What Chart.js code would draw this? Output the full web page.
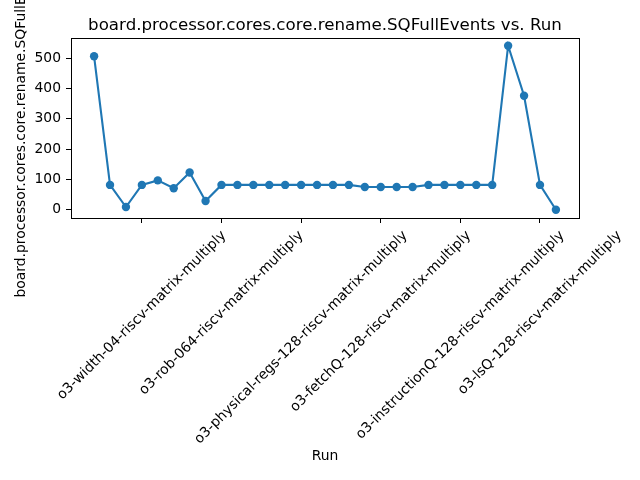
<!DOCTYPE html>
<html>
<head>
<meta charset="utf-8">
<script src="https://cdn.jsdelivr.net/npm/chart.js@4/dist/chart.umd.min.js"></script>
<style>
  html, body { margin: 0; padding: 0; background: #fff; }
  #wrap { width: 640px; height: 480px; }
</style>
</head>
<body>
<div id="wrap"><canvas id="c" width="640" height="480"></canvas></div>
<script>
const chartTitle = 'board.processor.cores.core.rename.SQFullEvents vs. Run';
const xTitle = 'Run';
const yTitle = 'board.processor.cores.core.rename.SQFullEvents';

const sqFullEvents = [506, 82, 9, 82, 97, 71, 123, 29, 82, 82, 82, 82, 82, 82, 82, 82, 82, 75, 75, 75, 75, 82, 82, 82, 82, 82, 541, 376, 82, 0];
const xTickPositions = [3, 8, 13, 18, 23, 28];
const xTickLabels = [
  'o3-width-04-riscv-matrix-multiply',
  'o3-rob-064-riscv-matrix-multiply',
  'o3-physical-regs-128-riscv-matrix-multiply',
  'o3-fetchQ-128-riscv-matrix-multiply',
  'o3-instructionQ-128-riscv-matrix-multiply',
  'o3-lsQ-128-riscv-matrix-multiply'
];
const yTickValues = [0, 100, 200, 300, 400, 500];

const FONT = "'DejaVu Sans', sans-serif";
const TICK_PX = 13.89;
const TITLE_PX = 16.67;
const BLUE = '#1f77b4';

Chart.defaults.color = '#000';
Chart.defaults.font.family = FONT;
Chart.defaults.font.size = TICK_PX;

const n = sqFullEvents.length;
const xPad = (n - 1) * 0.05;
const yMaxData = Math.max(...sqFullEvents), yMinData = Math.min(...sqFullEvents);
const yPad = (yMaxData - yMinData) * 0.05;

const decor = {
  id: 'decor',
  afterDraw(chart) {
    const ctx = chart.ctx;
    const a = chart.chartArea;
    const xs = chart.scales.x;
    ctx.save();
    ctx.strokeStyle = '#000';
    ctx.lineWidth = 1;
    ctx.strokeRect(Math.round(a.left) + 0.5, Math.round(a.top) + 0.5,
                   Math.round(a.right) - Math.round(a.left), Math.round(a.bottom) - Math.round(a.top));
    ctx.fillStyle = '#000';
    ctx.font = TITLE_PX + 'px ' + FONT;
    ctx.textAlign = 'center';
    ctx.textBaseline = 'alphabetic';
    ctx.fillText(chartTitle, (a.left + a.right) / 2, a.top - 8);
    ctx.font = TICK_PX + 'px ' + FONT;
    ctx.save();
    ctx.translate(21.5, (a.top + a.bottom) / 2);
    ctx.rotate(-Math.PI / 2);
    ctx.textAlign = 'center';
    ctx.textBaseline = 'middle';
    ctx.fillText(yTitle, 0, 0);
    ctx.restore();
    const H = 16;
    const topY = a.bottom + 9.7;
    xs.ticks.forEach((t) => {
      const label = xTickLabels[xTickPositions.indexOf(t.value)];
      if (!label) return;
      const px = xs.getPixelForValue(t.value);
      const W = ctx.measureText(label).width;
      const bh = (W + H) * Math.SQRT1_2;
      ctx.save();
      ctx.translate(px, topY + bh / 2);
      ctx.rotate(-Math.PI / 4);
      ctx.textAlign = 'center';
      ctx.textBaseline = 'middle';
      ctx.fillText(label, 0, 0);
      ctx.restore();
    });
    ctx.restore();
  }
};

new Chart(document.getElementById('c'), {
  type: 'line',
  data: {
    datasets: [{
      data: sqFullEvents.map((v, i) => ({ x: i, y: v })),
      borderColor: BLUE,
      backgroundColor: BLUE,
      borderWidth: 2.1,
      pointRadius: 4.2,
      pointHoverRadius: 4.2,
      pointBorderWidth: 0,
      pointBackgroundColor: BLUE,
      tension: 0,
      fill: false,
      clip: false
    }]
  },
  options: {
    responsive: false,
    animation: false,
    events: [],
    layout: { padding: { top: 37.5, right: 61, left: 0, bottom: 0 } },
    plugins: { legend: { display: false }, title: { display: false }, tooltip: { enabled: false } },
    scales: {
      x: {
        type: 'linear',
        min: -xPad,
        max: (n - 1) + xPad,
        bounds: 'data',
        afterBuildTicks: s => { s.ticks = xTickPositions.map(v => ({ value: v })); },
        afterFit: s => { s.height = 262; },
        ticks: { display: false },
        grid: { display: true, drawOnChartArea: false, drawTicks: true, tickLength: 5, color: '#000', lineWidth: 1 },
        border: { display: false },
        title: { display: true, text: xTitle, font: { size: TICK_PX, family: FONT }, color: '#000', padding: { top: 0, bottom: 15 } }
      },
      y: {
        type: 'linear',
        min: yMinData - yPad,
        max: yMaxData + yPad,
        bounds: 'data',
        afterBuildTicks: s => { s.ticks = yTickValues.map(v => ({ value: v })); },
        afterFit: s => { s.width = 71; },
        ticks: { padding: 5, color: '#000', font: { size: TICK_PX, family: FONT } },
        grid: { display: true, drawOnChartArea: false, drawTicks: true, tickLength: 5, color: '#000', lineWidth: 1 },
        border: { display: false }
      }
    }
  },
  plugins: [decor]
});
</script>
</body>
</html>
